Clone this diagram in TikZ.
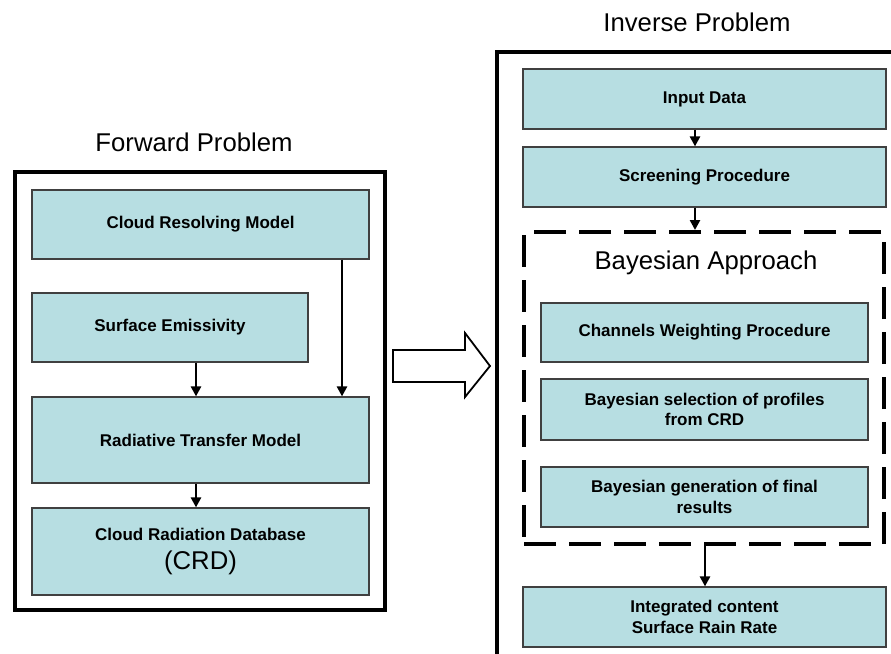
\documentclass[tikz,border=0pt]{standalone}
\usepackage{fontspec}
\setmainfont{Liberation Sans}
\usetikzlibrary{arrows.meta}
\definecolor{boxfill}{RGB}{183,222,226}
\definecolor{boxline}{RGB}{64,64,64}
\begin{document}
\begin{tikzpicture}[x=1pt,y=-1pt,
  procbox/.style={draw=boxline, line width=1.2pt, fill=boxfill, inner sep=0pt, align=center,
    font=\fontsize{17}{20.5}\selectfont\bfseries},
  frame/.style={draw=black, line width=4.5pt},
  dashframe/.style={draw=black, line width=4pt, dash pattern=on 32pt off 13pt, inner sep=0pt},
  title/.style={font=\fontsize{25.7}{30}\selectfont, inner sep=0pt},
  flow/.style={draw=black, line width=2.6pt, -{Triangle[length=10pt,width=10pt]}},
  bigarrow/.style={draw=black, line width=1.8pt, fill=white, line join=miter},
]
\useasboundingbox (0,0) rectangle (891,653);

% ---------- Forward problem ----------
\node[title] (fwdtitle) at (194,142) {Forward Problem};
\draw[frame] (15,172) rectangle (385,610);

\node[procbox, minimum width=337pt, minimum height=69pt] (crm) at (200.5,224.5) {Cloud Resolving Model};
\node[procbox, minimum width=276pt, minimum height=69pt] (se) at (170,327.5) {Surface Emissivity};
\node[procbox, minimum width=337pt, minimum height=86pt] (rtm) at (200.5,440) {Radiative Transfer Model};
\node[procbox, minimum width=337pt, minimum height=87pt] (crd) at (200.5,551.5)
  {Cloud Radiation Database\\[9pt]{\fontsize{25.7}{28}\selectfont\mdseries (CRD)}};

\coordinate (xa) at (196,0);
\coordinate (xb) at (342,0);
\draw[flow] (se.south -| xa) -- (rtm.north -| xa);
\draw[flow] (crm.south -| xb) -- (rtm.north -| xb);
\draw[flow] (rtm.south -| xa) -- (crd.north -| xa);

% ---------- big hollow arrow ----------
\draw[bigarrow] (393,350) -- (465,350) -- (465,333) -- (490,366) -- (465,397) -- (465,382) -- (393,382) -- cycle;

% ---------- Inverse problem ----------
\node[title] (invtitle) at (697,22) {Inverse Problem};
\begin{scope}
  \clip (0,0) rectangle (891,653);
  \draw[frame] (497,52) rectangle (920,690);
\end{scope}

\node[procbox, minimum width=363pt, minimum height=60pt] (inp) at (704.5,99) {Input Data};
\node[procbox, minimum width=363pt, minimum height=60pt] (scr) at (704.5,177) {Screening Procedure};

\node[dashframe, minimum width=360pt, minimum height=312pt] (bay) at (704,388) {};
\node[title] (baytitle) at (706,263) {Bayesian Approach};

\node[procbox, minimum width=327pt, minimum height=59pt] (cwp) at (704.5,332.5) {Channels Weighting Procedure};
\node[procbox, minimum width=327pt, minimum height=61pt] (bsel) at (704.5,409.5) {Bayesian selection of profiles\\from CRD};
\node[procbox, minimum width=327pt, minimum height=60pt] (bgen) at (704.5,497) {Bayesian generation of final\\results};

\node[procbox, minimum width=363pt, minimum height=60pt] (irr) at (704.5,617) {Integrated content\\Surface Rain Rate};

\coordinate (xc) at (695,0);
\coordinate (xd) at (705,0);
\draw[flow] (inp.south -| xc) -- (scr.north -| xc);
\draw[flow] (scr.south -| xc) -- (bay.north -| xc);
\draw[flow] (bay.south -| xd) -- (irr.north -| xd);
\end{tikzpicture}
\end{document}
